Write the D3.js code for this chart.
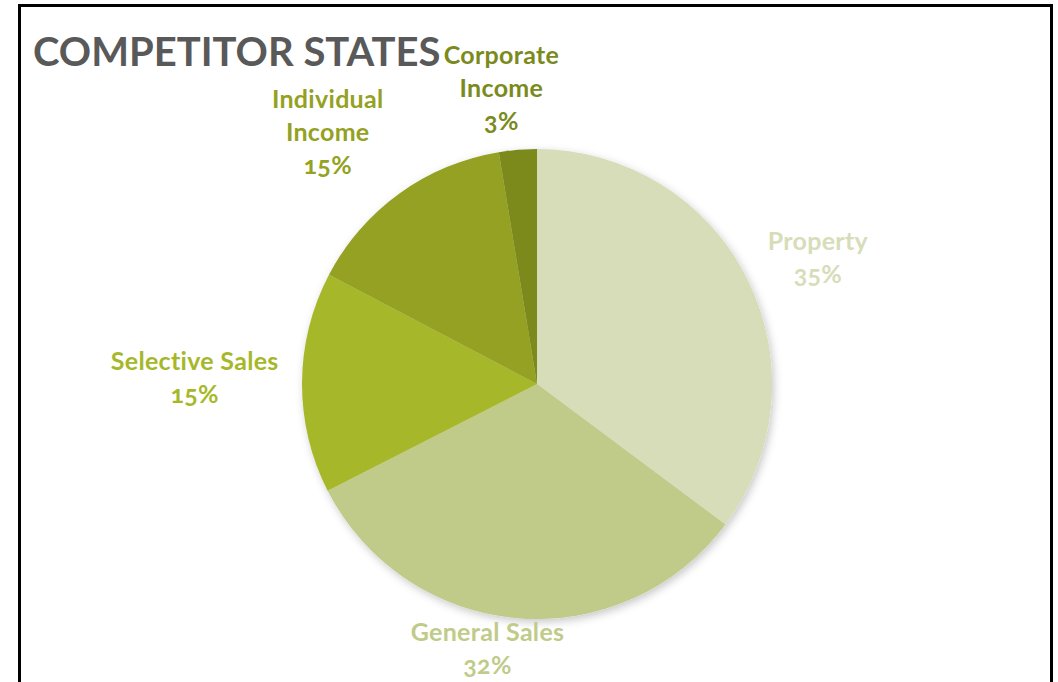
<!DOCTYPE html>
<html>
<head>
<meta charset="utf-8">
<script src="https://cdn.jsdelivr.net/npm/d3@7"></script>
<style>
  body { margin: 0; background: #fff; }
  svg text { font-family: Lato, "Open Sans", sans-serif; font-weight: bold; font-variant-numeric: oldstyle-nums; }
</style>
</head>
<body>
<div id="chart"></div>
<script>
// data
var categories = ["Property", "General Sales", "Selective Sales", "Individual Income", "Corporate Income"];
var labelLines = [["Property"], ["General Sales"], ["Selective Sales"], ["Individual", "Income"], ["Corporate", "Income"]];
var shares = [35.2, 32.3, 15.2, 14.7, 2.6];
var colors = ["#d6ddb8", "#c0cb8a", "#a6b82a", "#94a122", "#7b8a1c"];
var title = "COMPETITOR STATES";

var width = 1058, height = 682;
var cx = 537, cy = 384, radius = 235;

// label nudges from the label arc (Excel best-fit placement)
var labelNudge = [[33, -1], [-26, -11], [-65, -4], [-47, -26], [-13, -19]];

var svg = d3.select("#chart").append("svg")
    .attr("width", width)
    .attr("height", height);

var defs = svg.append("defs");
var f = defs.append("filter").attr("id", "shadow")
    .attr("x", "-10%").attr("y", "-10%").attr("width", "120%").attr("height", "120%");
f.append("feDropShadow")
    .attr("dx", 2).attr("dy", 3).attr("stdDeviation", 4)
    .attr("flood-color", "#000").attr("flood-opacity", 0.22);

// frame
svg.append("rect")
    .attr("x", 19.5).attr("y", 5.5)
    .attr("width", 1032).attr("height", 700)
    .attr("fill", "none")
    .attr("stroke", "#000")
    .attr("stroke-width", 3);

var data = categories.map(function(c, i){
    return { name: c, lines: labelLines[i], value: shares[i], color: colors[i] };
});

var pie = d3.pie()
    .sort(null)
    .value(function(d){ return d.value; });

var arc = d3.arc()
    .innerRadius(0)
    .outerRadius(radius);

var labelArc = d3.arc()
    .innerRadius(radius * 1.18)
    .outerRadius(radius * 1.18);

var g = svg.append("g")
    .attr("transform", "translate(" + cx + "," + cy + ")");

var arcs = pie(data);

g.append("g")
    .attr("filter", "url(#shadow)")
    .selectAll("path")
    .data(arcs)
    .enter().append("path")
    .attr("d", arc)
    .attr("fill", function(d){ return d.data.color; });

var labels = g.selectAll(".label")
    .data(arcs)
    .enter().append("text")
    .attr("class", "label")
    .attr("text-anchor", "middle")
    .attr("font-size", 25)
    .attr("letter-spacing", 0.3)
    .attr("fill", function(d){ return d.data.color; })
    .attr("transform", function(d, i){
        var c = labelArc.centroid(d);
        return "translate(" + (c[0] + labelNudge[i][0]) + "," + (c[1] + labelNudge[i][1]) + ")";
    });

labels.each(function(d){
    var t = d3.select(this);
    var lines = d.data.lines.concat([Math.round(d.data.value) + "%"]);
    var n = lines.length;
    lines.forEach(function(l, k){
        t.append("tspan")
            .attr("x", 0)
            .attr("y", (k - (n - 1) / 2) * 33 + 8)
            .text(l);
    });
});

svg.append("text")
    .attr("x", 33)
    .attr("y", 66)
    .attr("font-size", 40)
    .attr("fill", "#595959")
    .text(title);
</script>
</body>
</html>
